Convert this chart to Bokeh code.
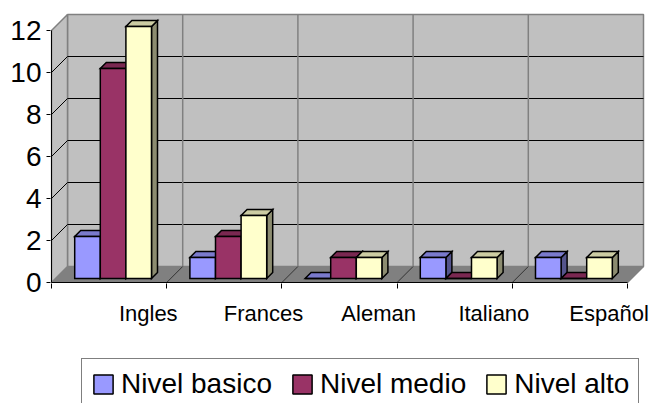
from bokeh.plotting import figure
from bokeh.layouts import column
from bokeh.models import Range1d, FixedTicker, Legend, LegendItem
from bokeh.embed import file_html
from bokeh.resources import INLINE

# ---- data ----
idiomas = ["Ingles", "Frances", "Aleman", "Italiano", "Español"]
series_names = ["Nivel basico", "Nivel medio", "Nivel alto"]
nivel_basico = [2, 1, 0, 1, 1]
nivel_medio = [10, 2, 1, 0, 0]
nivel_alto = [12, 3, 1, 1, 1]
y_ticks = [0, 2, 4, 6, 8, 10, 12]

series = [nivel_basico, nivel_medio, nivel_alto]
colors = ["#9999FF", "#993366", "#FFFFCC"]


def shade(hex_color, f):
    r, g, b = (int(hex_color[i:i + 2], 16) for i in (1, 3, 5))
    return "#%02x%02x%02x" % (int(r * f), int(g * f), int(b * f))


# ---- scale: pixels per data unit ----
PX_X = 115.2   # one category
PX_Y = 21.0    # one unit of value

WALL_DX, WALL_DY = 16 / PX_X, 16 / PX_Y   # depth of the floor / back wall
BAR_OFF_X, BAR_OFF_Y = 4 / PX_X, 4 / PX_Y  # bars sit a little behind the front edge
BAR_DX, BAR_DY = 6 / PX_X, 6 / PX_Y       # bar depth
BAR_W = 2 / 9                              # three bars + 150% gap per category
LABEL_POS = 0.84                           # category label position inside its slot

n = len(idiomas)
y_top = max(y_ticks)

W = 654
CHART_H, LEGEND_H = 340, 63
left_b, bottom_b = 50, 57
frame_w, frame_h = W - left_b, CHART_H - bottom_b

p = figure(width=W, height=CHART_H, title=None,
           x_range=Range1d(-1 / PX_X, (frame_w - 1) / PX_X),
           y_range=Range1d(-1 / PX_Y, (frame_h - 1) / PX_Y),
           output_backend="svg", toolbar_location=None,
           min_border_left=left_b, min_border_right=0,
           min_border_top=0, min_border_bottom=bottom_b)
p.outline_line_color = None
p.grid.visible = False
p.background_fill_color = "white"
p.border_fill_color = "white"

# ---- walls and floor ----
p.patch([WALL_DX, n + WALL_DX, n + WALL_DX, WALL_DX],
        [WALL_DY, WALL_DY, y_top + WALL_DY, y_top + WALL_DY],
        fill_color="#C0C0C0", line_color="#808080", line_width=1.5)
p.patch([0, WALL_DX, WALL_DX, 0], [0, WALL_DY, y_top + WALL_DY, y_top],
        fill_color="#C0C0C0", line_color="#808080", line_width=1.5)
p.patch([0, n, n + WALL_DX, WALL_DX], [0, 0, WALL_DY, WALL_DY],
        fill_color="#808080", line_color="#808080", line_width=1)

inner = [v for v in y_ticks if 0 < v < y_top]
# horizontal gridlines on the back wall and their diagonals on the side wall
p.segment(x0=[WALL_DX] * len(inner), y0=[v + WALL_DY for v in inner],
          x1=[n + WALL_DX] * len(inner), y1=[v + WALL_DY for v in inner],
          line_color="black", line_width=1)
p.segment(x0=[0] * len(inner), y0=inner,
          x1=[WALL_DX] * len(inner), y1=[v + WALL_DY for v in inner],
          line_color="black", line_width=1)
# category separators on the back wall and across the floor
seps = list(range(1, n))
p.segment(x0=[i + WALL_DX for i in seps], y0=[WALL_DY] * len(seps),
          x1=[i + WALL_DX for i in seps], y1=[y_top + WALL_DY] * len(seps),
          line_color="#808080", line_width=1.5)
p.segment(x0=seps, y0=[0] * len(seps),
          x1=[i + WALL_DX for i in seps], y1=[WALL_DY] * len(seps),
          line_color="#333333", line_width=1)
p.segment(x0=[n], y0=[0], x1=[n + WALL_DX], y1=[WALL_DY],
          line_color="#808080", line_width=1.5)

# front edges (value axis and category axis lines)
p.segment(x0=[0, 0], y0=[0, 0], x1=[0, n], y1=[y_top, 0],
          line_color="black", line_width=1)

# ---- bars ----
for k, vals in enumerate(series):
    col = colors[k]
    side_xs, side_ys, top_xs, top_ys = [], [], [], []
    lefts, rights, bottoms, tops = [], [], [], []
    for i, v in enumerate(vals):
        x0 = i + 0.5 - 1.5 * BAR_W + k * BAR_W + BAR_OFF_X
        x1 = x0 + BAR_W
        y0 = BAR_OFF_Y
        y1 = v + BAR_OFF_Y
        side_xs.append([x1, x1 + BAR_DX, x1 + BAR_DX, x1])
        side_ys.append([y0, y0 + BAR_DY, y1 + BAR_DY, y1])
        top_xs.append([x0, x1, x1 + BAR_DX, x0 + BAR_DX])
        top_ys.append([y1, y1, y1 + BAR_DY, y1 + BAR_DY])
        lefts.append(x0)
        rights.append(x1)
        bottoms.append(y0)
        tops.append(y1)
    p.patches(side_xs, side_ys, fill_color=shade(col, 0.55),
              line_color="black", line_width=1.5, line_join="miter")
    p.patches(top_xs, top_ys, fill_color=shade(col, 0.8),
              line_color="black", line_width=1.5, line_join="miter")
    p.quad(left=lefts, right=rights, bottom=bottoms, top=tops,
           fill_color=col, line_color="black", line_width=1.5,
           line_join="miter")

# ---- axes ----
yax = p.yaxis[0]
yax.ticker = FixedTicker(ticks=y_ticks)
yax.axis_line_color = None
yax.major_tick_in = 0
yax.major_tick_out = 4
yax.major_tick_line_color = "black"
yax.minor_tick_line_color = None
yax.major_label_standoff = 5
yax.major_label_text_font = "Liberation Sans"
yax.major_label_text_font_size = "28px"
yax.major_label_text_color = "black"

label_ticks = [i + LABEL_POS for i in range(n)]
xax = p.xaxis[0]
xax.ticker = FixedTicker(ticks=label_ticks, minor_ticks=list(range(n + 1)))
xax.major_label_overrides = {t: name for t, name in zip(label_ticks, idiomas)}
xax.axis_line_color = None
xax.major_tick_in = 0
xax.major_tick_out = 0
xax.major_tick_line_color = None
xax.minor_tick_in = 0
xax.minor_tick_out = 5
xax.minor_tick_line_color = "black"
xax.major_label_standoff = 12
xax.major_label_text_font = "Liberation Sans"
xax.major_label_text_font_size = "22px"
xax.major_label_text_color = "black"

# ---- legend strip below the chart ----
lg = figure(width=W, height=LEGEND_H, title=None,
            x_range=Range1d(0, 1), y_range=Range1d(0, 1),
            x_axis_type=None, y_axis_type=None,
            output_backend="svg", toolbar_location=None,
            min_border=0)
lg.outline_line_color = None
lg.grid.visible = False
lg.background_fill_color = "white"
lg.border_fill_color = "white"

# legend swatches: quads kept outside the visible range of the strip
swatches = [lg.quad(left=[5], right=[6], bottom=[5], top=[6], fill_color=c,
                    line_color="black", line_width=1.5)
            for c in colors]
legend = Legend(
    items=[LegendItem(label=name, renderers=[r]) for name, r in zip(series_names, swatches)],
    orientation="horizontal", location=(31, -7), margin=0,
    glyph_width=24, glyph_height=24, label_standoff=6, spacing=18, padding=9,
    label_text_font="Liberation Sans", label_text_font_size="28px",
    label_text_color="black",
    border_line_color="black", border_line_width=1,
    background_fill_color="white", background_fill_alpha=1.0,
)
lg.add_layout(legend, "center")

layout = column(p, lg, spacing=0)
open("out.html", "w").write(file_html(layout, INLINE))
